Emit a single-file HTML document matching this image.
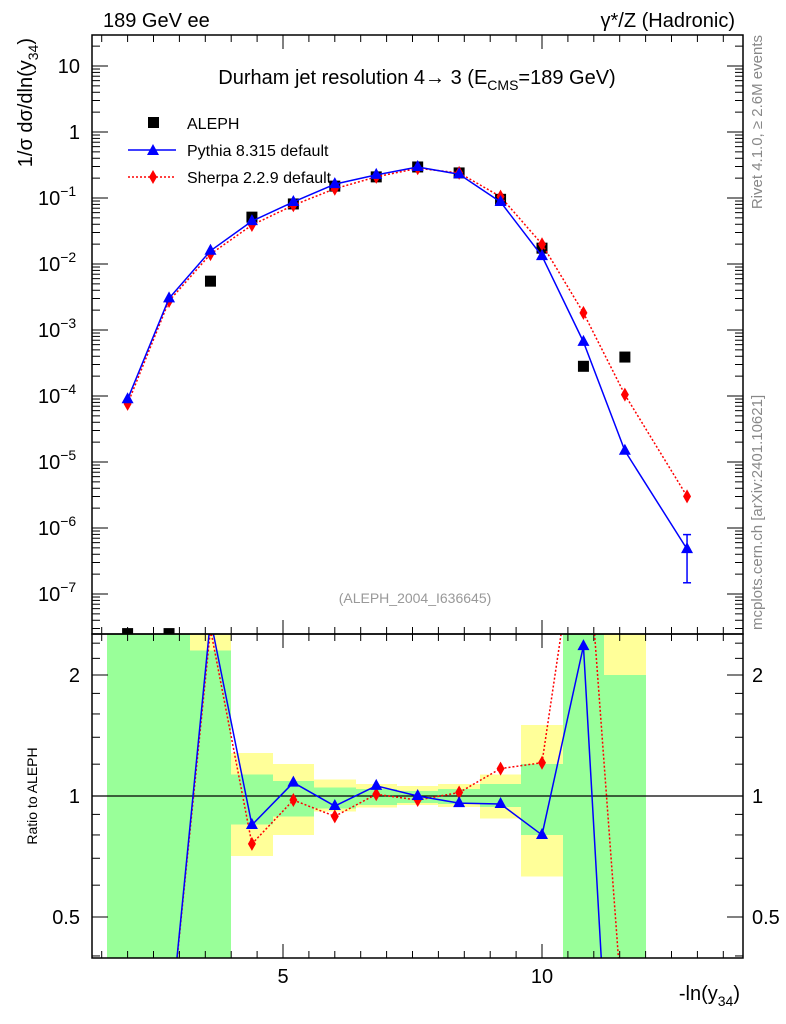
<!DOCTYPE html>
<html><head><meta charset="utf-8"><style>
html,body{margin:0;padding:0;background:#fff;overflow:hidden;width:786px;height:1024px;}
svg{display:block;font-family:"Liberation Sans",sans-serif;overflow:hidden;}
</style></head><body>
<svg id="c" width="786" height="1024" viewBox="0 0 786 1024">
<defs>
<clipPath id="cm"><rect x="92" y="35" width="651" height="599"/></clipPath>
<clipPath id="cr"><rect x="92" y="634" width="651" height="324"/></clipPath>
</defs>
<g id="bands" clip-path="url(#cr)" shape-rendering="crispEdges"></g>
<g id="grid"></g>
<g id="mainMarks" clip-path="url(#cm)"></g>
<g id="ratioMarks" clip-path="url(#cr)"></g>
<rect x="92" y="35" width="651" height="599" fill="none" stroke="#000" stroke-width="1.5"/>
<rect x="92" y="634" width="651" height="324" fill="none" stroke="#000" stroke-width="1.5"/>
<text x="103" y="27" font-size="20">189 GeV ee</text>
<text x="735" y="27" font-size="20" text-anchor="end">γ*/Z (Hadronic)</text>
<text x="417" y="84" font-size="20" text-anchor="middle">Durham jet resolution 4→  3 (E<tspan font-size="14" dy="6">CMS</tspan><tspan dy="-6">=189 GeV)</tspan></text>
<text x="415" y="603" font-size="14" fill="#999" text-anchor="middle">(ALEPH_2004_I636645)</text>
<text transform="translate(762,35) rotate(-90)" font-size="15" fill="#888" text-anchor="end">Rivet 4.1.0, ≥ 2.6M events</text>
<text transform="translate(762,630) rotate(-90)" font-size="15" fill="#888">mcplots.cern.ch [arXiv:2401.10621]</text>
<text transform="translate(32,38) rotate(-90)" font-size="20" text-anchor="end">1/σ  dσ/dln(y<tspan font-size="14" dy="6">34</tspan><tspan dy="-6">)</tspan></text>
<text transform="translate(37,796) rotate(-90)" font-size="14" text-anchor="middle">Ratio to ALEPH</text>
<text x="740" y="1000" font-size="20" text-anchor="end">-ln(y<tspan font-size="14" dy="6">34</tspan><tspan dy="-6">)</tspan></text>
<g>
<rect x="148" y="117" width="11" height="11" fill="#000"/>
<text x="187" y="129" font-size="16">ALEPH</text>
<line x1="128" y1="150" x2="176" y2="150" stroke="#00f" stroke-width="1.5"/>
<polygon points="153,144 159,155 147,155" fill="#00f"/>
<text x="187" y="156" font-size="16">Pythia 8.315 default</text>
<line x1="128" y1="177" x2="176" y2="177" stroke="#f00" stroke-width="1.5" stroke-dasharray="2,2"/>
<polygon points="153,170 157,177 153,184 149,177" fill="#f00"/>
<text x="187" y="183" font-size="16">Sherpa 2.2.9 default</text>
</g>
</svg>
<script>
const xCenters=[2.0,2.8,3.6,4.4,5.2,6.0,6.8,7.6,8.4,9.2,10.0,10.8,11.6,12.8];
const alephX=[3.6,4.4,5.2,6.0,6.8,7.6,8.4,9.2,10.0,10.8,11.6,2.0,2.8];
const alephLog=[-2.26,-1.29,-1.09,-0.82,-0.68,-0.53,-0.62,-1.02,-1.76,-3.55,-3.41,-7.6,-7.6];
const pythiaLog=[-4.05,-2.52,-1.80,-1.35,-1.06,-0.79,-0.65,-0.53,-0.64,-1.06,-1.88,-3.18,-4.83,-6.32];
const sherpaLog=[-4.12,-2.56,-1.85,-1.41,-1.11,-0.86,-0.68,-0.55,-0.62,-0.98,-1.70,-2.74,-3.98,-5.52];
const ratioX=[2.0,2.8,3.6,4.4,5.2,6.0,6.8,7.6,8.4,9.2,10.0,10.8,11.6];
const pythiaRatio=[0.1,0.25,2.75,0.847,1.08,0.944,1.06,1.0,0.96,0.955,0.8,2.36,0.037];
const sherpaRatio=[0.1,0.25,2.6,0.76,0.977,0.89,1.01,0.977,1.02,1.17,1.21,6.0,0.24];
const greenLo=[0.3,0.3,0.3,0.85,0.89,0.93,0.95,0.96,0.955,0.94,0.8,0.3,0.3];
const greenHi=[3,3,2.3,1.13,1.09,1.05,1.04,1.03,1.04,1.07,1.2,3,2.0];
const yellowLo=[0.3,0.3,0.3,0.71,0.8,0.915,0.935,0.95,0.94,0.88,0.63,0.3,0.3];
const yellowHi=[3,3,3,1.28,1.2,1.1,1.07,1.06,1.07,1.13,1.5,3,3];
const mainTicks=[1,0,-1,-2,-3,-4,-5,-6,-7];
const mainTickLabels=["10","1","10","10","10","10","10","10","10"];
const mainTickExps=["","","−1","−2","−3","−4","−5","−6","−7"];
const ratioTicks=[2,1,0.5];
const ratioTickLabels=["2","1","0.5"];
const xTicks=[5,10];
const xTickLabels=["5","10"];

const NS="http://www.w3.org/2000/svg";
const X=v=>283+(v-5)*51.8;
const Y=l=>132-66*l;
const R=r=>796-121*Math.log2(r);
function mk(p,t,a){const e=document.createElementNS(NS,t);for(const k in a)e.setAttribute(k,a[k]);p.appendChild(e);return e;}
const bands=document.getElementById('bands'),grid=document.getElementById('grid'),mm=document.getElementById('mainMarks'),rm=document.getElementById('ratioMarks');
const clampB=(v,a,b)=>Math.max(a,Math.min(b,v));

for(let i=0;i<ratioX.length;i++){
  const x0=Math.round(X(ratioX[i]-0.4)),w=Math.round(X(ratioX[i]+0.4))-x0;
  const yh=clampB(R(yellowHi[i]),634,958),yl=clampB(R(yellowLo[i]),634,958);
  const gh=clampB(R(greenHi[i]),634,958),gl=clampB(R(greenLo[i]),634,958);
  let e=mk(bands,'rect',{x:x0,y:yh,width:w,height:yl-yh,fill:'#ffff99'});
  
  
  e=mk(bands,'rect',{x:x0,y:gh,width:w,height:gl-gh,fill:'#99ff99'});
  
  
}
mk(grid,'line',{x1:92,x2:743,y1:R(1),y2:R(1),stroke:'#000','stroke-width':1.2});
for(let v=1.5;v<=13.9;v+=0.5){
  const major=Math.abs(v%5)<1e-6, len=major?14:7, x=X(v);
  if(x<92||x>743)continue;
  [[35,1],[634,-1],[634,1],[958,-1]].forEach(([y,d])=>mk(grid,'line',{x1:x,x2:x,y1:y,y2:y+d*len,stroke:'#000','stroke-width':1}));
}
xTicks.forEach((v,i)=>{const t=mk(grid,'text',{x:X(v),y:983,'font-size':20,'text-anchor':'middle'});t.textContent=xTickLabels[i];

});
for(let d=-8;d<=1;d++){for(let m=1;m<10;m++){const l=d+Math.log10(m),y=Y(l);if(y<35||y>634)continue;const len=m==1?16:8;
mk(grid,'line',{x1:92,x2:92+len,y1:y,y2:y,stroke:'#000'});mk(grid,'line',{x1:743,x2:743-len,y1:y,y2:y,stroke:'#000'});}}
mainTicks.forEach((l,i)=>{let t;
  if(mainTickExps[i]){t=mk(grid,'text',{x:38,y:Y(l)+7,'font-size':20});t.textContent=mainTickLabels[i];
    const s=mk(t,'tspan',{dy:-9,'font-size':14});s.textContent=mainTickExps[i];}
  else{t=mk(grid,'text',{x:80,y:Y(l)+7,'font-size':20,'text-anchor':'end'});t.textContent=mainTickLabels[i];}
  
  });
[0.4,0.5,0.6,0.7,0.8,0.9,1,1.2,1.4,1.6,1.8,2,2.2,2.4].forEach(r=>{const y=R(r);if(y<634||y>958)return;const len=[0.5,1,2].includes(r)?16:8;
mk(grid,'line',{x1:92,x2:92+len,y1:y,y2:y,stroke:'#000'});mk(grid,'line',{x1:743,x2:743-len,y1:y,y2:y,stroke:'#000'});});
ratioTicks.forEach((r,i)=>{[80,752].forEach((x,j)=>{const t=mk(grid,'text',{x:x,y:R(r)+7,'font-size':20,'text-anchor':j?'start':'end'});t.textContent=ratioTickLabels[i];

});});

// clip segment to y range [y0,y1]
function clipSeg(ax,ay,bx,by,y0,y1){
  let t0=0,t1=1;const dy=by-ay;
  if(dy===0){if(ay<y0||ay>y1)return null;}
  else{let ta=(y0-ay)/dy,tb=(y1-ay)/dy;if(ta>tb)[ta,tb]=[tb,ta];t0=Math.max(t0,ta);t1=Math.min(t1,tb);if(t0>t1)return null;}
  return [ax+(bx-ax)*t0,ay+dy*t0,ax+(bx-ax)*t1,ay+dy*t1];
}
function series(g,xs,vals,f,color,dash,marker,name,y0,y1){
  let d='';
  for(let i=0;i+1<xs.length;i++){
    const s=clipSeg(X(xs[i]),f(vals[i]),X(xs[i+1]),f(vals[i+1]),y0,y1);
    if(s)d+=`M${s[0]},${s[1]}L${s[2]},${s[3]}`;
  }
  const pl=mk(g,'path',{d:d,fill:'none',stroke:color,'stroke-width':1.5,'stroke-dasharray':dash});
  
  
  xs.forEach((x,i)=>{const cx=X(x),cy=f(vals[i]);if(cy<y0-8||cy>y1+8)return;let p;
    if(marker=='tri')p=mk(g,'polygon',{points:`${cx},${cy-7} ${cx+6},${cy+4} ${cx-6},${cy+4}`,fill:color});
    else p=mk(g,'polygon',{points:`${cx},${cy-7} ${cx+4},${cy} ${cx},${cy+7} ${cx-4},${cy}`,fill:color});
    
    });
}
mk(mm,'line',{x1:X(12.8),x2:X(12.8),y1:Y(-6.1),y2:Y(-6.83),stroke:'#00f','stroke-width':1.5});
mk(mm,'line',{x1:X(12.8)-4,x2:X(12.8)+4,y1:Y(-6.1),y2:Y(-6.1),stroke:'#00f','stroke-width':1.5});
mk(mm,'line',{x1:X(12.8)-4,x2:X(12.8)+4,y1:Y(-6.83),y2:Y(-6.83),stroke:'#00f','stroke-width':1.5});
alephX.forEach((x,i)=>{const y=Math.min(Y(alephLog[i]),634);const r=mk(mm,'rect',{x:X(x)-5.5,y:y-5.5,width:11,height:11,fill:'#000'});

});
series(mm,xCenters,sherpaLog,Y,'#f00','2,2','dia','sherpa',35,634);
series(mm,xCenters,pythiaLog,Y,'#00f','none','tri','pythia',35,634);
series(rm,ratioX,sherpaRatio,R,'#f00','2,2','dia','sherpa-ratio',634,958);
series(rm,ratioX,pythiaRatio,R,'#00f','none','tri','pythia-ratio',634,958);
</script>
</body></html>
